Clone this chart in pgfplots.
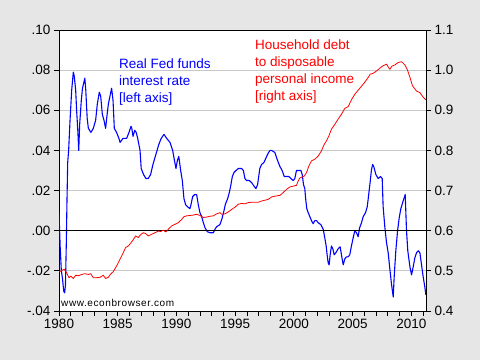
\documentclass[border=0pt]{standalone}
\usepackage{pgfplots}
\pgfplotsset{compat=1.18}
\usepackage{fontspec}
\setmainfont{Liberation Sans}
\definecolor{bg}{RGB}{230,230,230}
\definecolor{gridgray}{RGB}{200,200,200}
\begin{document}
\begin{tikzpicture}[x=1pt,y=1pt]
\fill[bg] (0,0) rectangle (480,360);
\begin{axis}[at={(59pt,49pt)}, anchor=south west, scale only axis,
  width=367pt, height=281pt,
  xmin=1980, xmax=2011.25, ymin=-0.04, ymax=0.10,
  axis background/.style={fill=white},
  axis line style={line width=1pt},
  xtick={1980,1985,1990,1995,2000,2005,2010},
  xticklabels={1980,1985,1990,1995,2000,2005,2010},
  minor xtick={1981,1982,1983,1984,1986,1987,1988,1989,1991,1992,1993,1994,1996,1997,1998,1999,2001,2002,2003,2004,2006,2007,2008,2009,2011},
  ytick={-0.04,-0.02,0,0.02,0.04,0.06,0.08,0.10},
  yticklabels={-.04,-.02,.00,.02,.04,.06,.08,.10},
  tick align=outside, xtick pos=left, ytick pos=left,
  major tick length=5pt, minor tick length=5pt,
  tick style={black, line width=0.8pt},
  ymajorgrids, grid style={gridgray, line width=0.8pt},
  tick label style={font=\fontsize{13.5}{16}\selectfont},
]
\addplot[blue, line width=1.1pt, line join=round] coordinates {
(1980.00,0.009) (1980.10,-0.008) (1980.20,-0.020) (1980.30,-0.024) (1980.40,-0.030)
(1980.48,-0.031) (1980.55,-0.027) (1980.62,-0.007) (1980.68,0.015) (1980.74,0.034)
(1980.82,0.040) (1980.94,0.055) (1981.08,0.070) (1981.22,0.079) (1981.30,0.077)
(1981.42,0.070) (1981.50,0.060) (1981.60,0.050) (1981.68,0.040) (1981.76,0.053)
(1981.90,0.065) (1982.00,0.071) (1982.20,0.076) (1982.28,0.070) (1982.40,0.056)
(1982.50,0.051) (1982.72,0.049) (1982.92,0.051) (1983.12,0.055) (1983.26,0.063)
(1983.43,0.069) (1983.55,0.067) (1983.69,0.058) (1983.83,0.055) (1983.97,0.051)
(1984.06,0.056) (1984.20,0.063) (1984.34,0.067) (1984.48,0.071) (1984.60,0.065)
(1984.71,0.051) (1984.90,0.049) (1985.10,0.046) (1985.20,0.044) (1985.45,0.046)
(1985.76,0.046) (1985.96,0.049) (1986.13,0.052) (1986.20,0.051) (1986.30,0.047)
(1986.45,0.050) (1986.57,0.049) (1986.70,0.046) (1986.90,0.040) (1987.00,0.031)
(1987.20,0.028) (1987.40,0.026) (1987.60,0.026) (1987.80,0.028) (1988.00,0.033)
(1988.30,0.039) (1988.50,0.043) (1988.70,0.046) (1988.94,0.048) (1989.17,0.046)
(1989.45,0.044) (1989.68,0.040) (1989.80,0.036) (1989.96,0.031) (1990.08,0.035)
(1990.20,0.037) (1990.36,0.030) (1990.50,0.025) (1990.64,0.016) (1990.78,0.013)
(1990.93,0.012) (1991.15,0.011) (1991.24,0.013) (1991.38,0.017) (1991.55,0.018)
(1991.72,0.018) (1991.86,0.013) (1992.00,0.009) (1992.15,0.007) (1992.29,0.004)
(1992.43,0.0015) (1992.63,-0.0005) (1992.86,-0.001) (1993.14,-0.001) (1993.28,0.0007)
(1993.42,0.002) (1993.70,0.003) (1993.88,0.006) (1994.05,0.010) (1994.16,0.013)
(1994.36,0.016) (1994.50,0.019) (1994.61,0.022) (1994.76,0.027) (1994.90,0.029)
(1995.07,0.030) (1995.27,0.031) (1995.55,0.031) (1995.70,0.030) (1995.83,0.026)
(1995.98,0.025) (1996.20,0.025) (1996.40,0.024) (1996.63,0.022) (1996.77,0.021)
(1996.91,0.023) (1997.10,0.031) (1997.25,0.033) (1997.45,0.034) (1997.68,0.037)
(1997.85,0.039) (1997.98,0.040) (1998.10,0.040) (1998.38,0.039) (1998.61,0.035)
(1998.81,0.032) (1999.00,0.030) (1999.18,0.027) (1999.37,0.027) (1999.57,0.027)
(1999.74,0.026) (1999.94,0.025) (2000.08,0.026) (2000.22,0.030) (2000.37,0.030)
(2000.60,0.030) (2000.71,0.028) (2000.82,0.023) (2000.93,0.021) (2001.00,0.016)
(2001.10,0.011) (2001.22,0.009) (2001.36,0.007) (2001.50,0.005) (2001.64,0.0035)
(2001.78,0.005) (2001.93,0.005) (2002.07,0.004) (2002.30,0.003) (2002.50,0.0007)
(2002.63,-0.0035) (2002.75,-0.0076) (2002.83,-0.012) (2002.92,-0.016) (2003.00,-0.017)
(2003.09,-0.012) (2003.20,-0.0076) (2003.32,-0.009) (2003.43,-0.012) (2003.57,-0.011)
(2003.77,-0.009) (2003.94,-0.008) (2004.05,-0.012) (2004.20,-0.017) (2004.34,-0.014)
(2004.48,-0.013) (2004.62,-0.013) (2004.76,-0.012) (2004.90,-0.0076) (2005.05,-0.0035)
(2005.19,0.000) (2005.33,-0.001) (2005.47,-0.003) (2005.60,0.0015) (2005.76,0.004)
(2005.90,0.007) (2006.10,0.009) (2006.25,0.012) (2006.33,0.016) (2006.47,0.023)
(2006.60,0.030) (2006.70,0.033) (2006.80,0.032) (2006.98,0.028) (2007.18,0.026)
(2007.38,0.027) (2007.52,0.026) (2007.60,0.012) (2007.75,0.0015) (2007.89,-0.006)
(2008.03,-0.011) (2008.17,-0.019) (2008.32,-0.027) (2008.46,-0.033) (2008.54,-0.023)
(2008.68,-0.010) (2008.83,0.000) (2008.97,0.0065) (2009.11,0.011) (2009.31,0.015)
(2009.48,0.018) (2009.59,0.000) (2009.70,-0.010) (2009.88,-0.018) (2010.02,-0.022)
(2010.16,-0.018) (2010.30,-0.0135) (2010.44,-0.011) (2010.59,-0.010) (2010.73,-0.011)
(2010.87,-0.017) (2011.01,-0.023) (2011.15,-0.028) (2011.24,-0.032)
};
\draw[black, line width=1pt] (axis cs:1980,0) -- (axis cs:2011.25,0);
\end{axis}
\begin{axis}[at={(59pt,49pt)}, anchor=south west, scale only axis,
  width=367pt, height=281pt,
  xmin=1980, xmax=2011.25, ymin=0.4, ymax=1.1,
  axis x line=none, axis y line*=right,
  axis line style={line width=1pt, -},
  ytick={0.4,0.5,0.6,0.7,0.8,0.9,1.0,1.1},
  yticklabels={0.4,0.5,0.6,0.7,0.8,0.9,1.0,1.1},
  tick align=outside, major tick length=5pt,
  tick style={black, line width=0.8pt},
  tick label style={font=\fontsize{13.5}{16}\selectfont},
]
\addplot[red, line width=0.8pt, line join=round] coordinates {
(1980.00,0.497) (1980.23,0.501) (1980.45,0.504) (1980.65,0.495) (1980.85,0.483)
(1981.00,0.487) (1981.22,0.481) (1981.42,0.489) (1981.65,0.488) (1981.93,0.491)
(1982.20,0.493) (1982.50,0.491) (1982.70,0.493) (1982.92,0.483) (1983.20,0.483)
(1983.50,0.484) (1983.77,0.489) (1983.97,0.481) (1984.20,0.484) (1984.43,0.493)
(1984.62,0.498) (1984.90,0.512) (1985.20,0.529) (1985.47,0.545) (1985.67,0.558)
(1985.90,0.562) (1986.13,0.570) (1986.33,0.578) (1986.52,0.587) (1986.75,0.583)
(1986.98,0.591) (1987.18,0.595) (1987.38,0.593) (1987.60,0.587) (1987.89,0.591)
(1988.17,0.595) (1988.45,0.599) (1988.65,0.598) (1988.88,0.601) (1989.10,0.597)
(1989.35,0.605) (1989.60,0.612) (1989.88,0.616) (1990.16,0.620) (1990.44,0.628)
(1990.64,0.635) (1990.87,0.637) (1991.15,0.638) (1991.44,0.639) (1991.72,0.641)
(1992.00,0.638) (1992.29,0.633) (1992.57,0.634) (1992.86,0.636) (1993.14,0.637)
(1993.42,0.642) (1993.70,0.645) (1993.85,0.641) (1994.13,0.642) (1994.42,0.647)
(1994.70,0.653) (1995.00,0.659) (1995.27,0.666) (1995.55,0.668) (1995.83,0.667)
(1996.12,0.670) (1996.40,0.671) (1996.69,0.671) (1996.97,0.671) (1997.25,0.674)
(1997.54,0.676) (1997.81,0.678) (1998.10,0.684) (1998.38,0.686) (1998.81,0.688)
(1999.09,0.695) (1999.37,0.703) (1999.66,0.709) (1999.94,0.711) (2000.22,0.713)
(2000.37,0.724) (2000.50,0.731) (2000.71,0.734) (2000.88,0.736) (2001.08,0.745)
(2001.27,0.761) (2001.50,0.774) (2001.78,0.778) (2002.07,0.786) (2002.35,0.799)
(2002.58,0.815) (2002.78,0.824) (2002.98,0.836) (2003.20,0.853) (2003.49,0.865)
(2003.77,0.878) (2004.05,0.890) (2004.34,0.905) (2004.62,0.909) (2004.90,0.926)
(2005.19,0.940) (2005.47,0.950) (2005.76,0.960) (2006.04,0.970) (2006.33,0.982)
(2006.50,0.990) (2006.75,0.992) (2007.04,0.998) (2007.32,1.005) (2007.60,1.011)
(2007.89,1.015) (2008.03,1.008) (2008.17,1.002) (2008.35,1.010) (2008.60,1.013)
(2008.88,1.019) (2009.17,1.021) (2009.45,1.013) (2009.65,1.002) (2009.88,0.982)
(2010.10,0.961) (2010.44,0.948) (2010.73,0.944) (2011.00,0.933) (2011.24,0.926)
};
\end{axis}
\node[anchor=north west, inner sep=0pt, align=left, text=blue,
  font=\fontsize{13.5}{16.7}\selectfont] at (119,301) {Real Fed funds\\interest rate\\{[}left axis{]}};
\node[anchor=north west, inner sep=0pt, align=left, text=red,
  font=\fontsize{13.5}{16.7}\selectfont] at (255,320) {Household debt\\to disposable\\personal income\\{[}right axis{]}};
\node[anchor=base west, inner sep=0pt, font=\fontsize{10}{12}\selectfont\addfontfeatures{LetterSpace=6}] at (61,53.5) {www.econbrowser.com};
\end{tikzpicture}
\end{document}
